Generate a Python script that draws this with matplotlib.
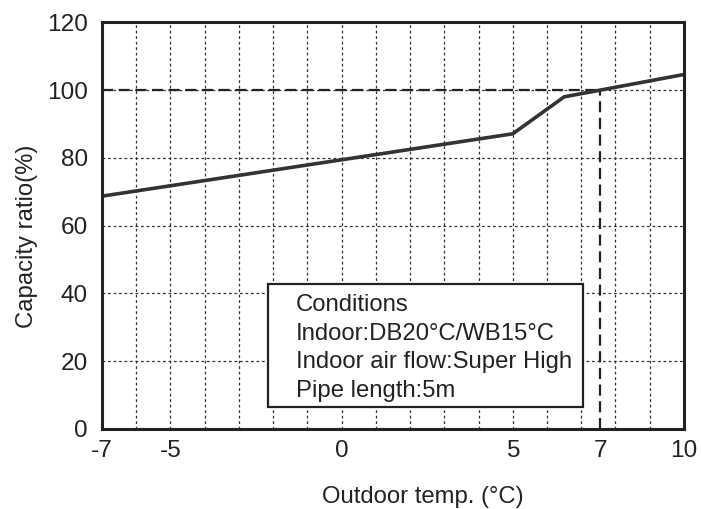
import matplotlib
matplotlib.use("Agg")
import matplotlib.pyplot as plt
from matplotlib.patches import Rectangle

# ---- data ----
temps = [-7, 5, 6.5, 10]
capacity = [68.7, 87.1, 98.0, 104.6]
ref_x = 7.55
ref_y = 100
xtick_pos = [-7, -5, 0, 5, ref_x, 10]
xtick_labels = ['-7', '-5', '0', '5', '7', '10']
ytick_pos = [0, 20, 40, 60, 80, 100, 120]
xgrid = list(range(-6, 10))
ygrid = [20, 40, 60, 80, 100]
cond_lines = ['Conditions', 'Indoor:DB20°C/WB15°C',
              'Indoor air flow:Super High', 'Pipe length:5m']

plt.rcParams['font.family'] = ['Liberation Sans', 'DejaVu Sans']
FS = 17.2
TFS = 17.6
INK = '#222222'

fig = plt.figure(figsize=(7.01, 5.09), dpi=100)
ax = fig.add_axes([0.1455, 0.1572, 0.8302, 0.7990])
ax.set_xlim(-7, 10)
ax.set_ylim(0, 120)

for gx in xgrid:
    ax.axvline(gx, color='#333333', lw=0.9, ls=(0, (2.2, 2.2)), zorder=1)
for gy in ygrid:
    ax.axhline(gy, color='#333333', lw=0.9, ls=(0, (2.2, 2.2)), zorder=1)

ax.plot([-7, ref_x], [ref_y, ref_y], color=INK, lw=1.6, ls=(0, (5, 2.5)), zorder=2)
ax.plot([ref_x, ref_x], [0, ref_y], color=INK, lw=1.6, ls=(0, (5, 2.5)), zorder=2)

ax.plot(temps, capacity, color='#333333', lw=2.6, zorder=3, solid_joinstyle='miter')

ax.set_xticks(xtick_pos)
ax.set_xticklabels(xtick_labels)
ax.set_yticks(ytick_pos)
ax.tick_params(axis='both', length=0, labelsize=TFS, colors=INK)
ax.tick_params(axis='x', pad=8)
ax.tick_params(axis='y', pad=10)

for s in ax.spines.values():
    s.set_linewidth(2.2)
    s.set_color(INK)
    s.set_zorder(5)

ax.set_ylabel('Capacity ratio(%)', fontsize=FS, color=INK)
ax.yaxis.set_label_coords(-0.129, 0.474)
ax.set_xlabel('Outdoor temp. (°C)', fontsize=FS, color=INK)
ax.xaxis.set_label_coords(0.5515, -0.167)
ax.xaxis.label.set_va('center')
ax.yaxis.label.set_va('center')

box = Rectangle((0.2852, 0.0548), 0.8265 - 0.2852, 0.3563 - 0.0548,
                transform=ax.transAxes, facecolor='white', edgecolor=INK,
                lw=1.6, zorder=4)
ax.add_patch(box)
baselines = [0.2899, 0.2194, 0.1489, 0.0786]
for txt, by in zip(cond_lines, baselines):
    ax.text(0.3328, by, txt, transform=ax.transAxes, fontsize=FS,
            color=INK, va='baseline', ha='left', zorder=6)

fig.savefig('out.png', dpi=100)
